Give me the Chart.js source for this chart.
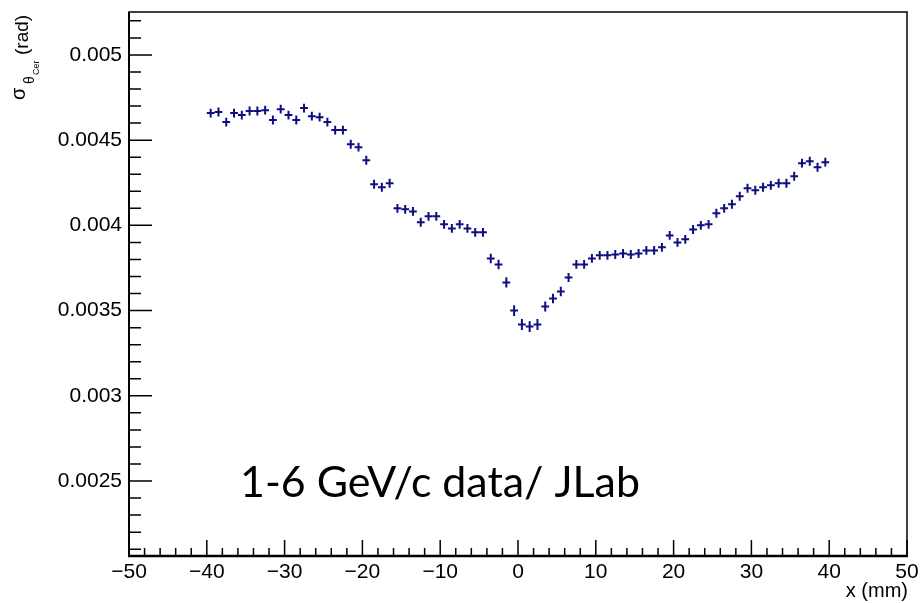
<!DOCTYPE html>
<html><head><meta charset="utf-8">
<script src="https://cdn.jsdelivr.net/npm/chart.js@4/dist/chart.umd.min.js"></script>
<style>html,body{margin:0;padding:0;background:#fff}#wrap{width:922px;height:603px;position:relative}</style>
</head><body><div id="wrap"><canvas id="c" width="922" height="603"></canvas></div>
<script>
// ---- data ----
const binCenters = [-39.5,-38.5,-37.5,-36.5,-35.5,-34.5,-33.5,-32.5,-31.5,-30.5,-29.5,-28.5,-27.5,-26.5,-25.5,-24.5,-23.5,-22.5,-21.5,-20.5,
  -19.5,-18.5,-17.5,-16.5,-15.5,-14.5,-13.5,-12.5,-11.5,-10.5,-9.5,-8.5,-7.5,-6.5,-5.5,-4.5,-3.5,-2.5,-1.5,-0.5,
  0.5,1.5,2.5,3.5,4.5,5.5,6.5,7.5,8.5,9.5,10.5,11.5,12.5,13.5,14.5,15.5,16.5,17.5,18.5,19.5,
  20.5,21.5,22.5,23.5,24.5,25.5,26.5,27.5,28.5,29.5,30.5,31.5,32.5,33.5,34.5,35.5,36.5,37.5,38.5,39.5];
const sigmaValues = [0.004659,0.004665,0.004606,0.004659,0.004647,0.004671,0.004671,0.004676,0.004618,0.004682,
  0.004647,0.004618,0.004688,0.004641,0.004635,0.004606,0.004559,0.004559,0.004476,0.004459,
  0.004382,0.004241,0.004224,0.004247,0.004100,0.004094,0.004082,0.004018,0.004053,0.004053,
  0.004006,0.003982,0.004006,0.003982,0.003959,0.003959,0.003806,0.003771,0.003665,0.003500,
  0.003418,0.003406,0.003418,0.003524,0.003571,0.003612,0.003694,0.003771,0.003771,0.003806,
  0.003824,0.003824,0.003829,0.003835,0.003829,0.003835,0.003853,0.003853,0.003871,0.003941,
  0.003900,0.003918,0.003976,0.004000,0.004006,0.004071,0.004100,0.004124,0.004171,0.004218,
  0.004206,0.004224,0.004235,0.004247,0.004247,0.004288,0.004365,0.004376,0.004341,0.004371];
const sigmaErrors = [0.000026,0.000026,0.000026,0.000026,0.000026,0.000026,0.000026,0.000026,0.000026,0.000026,
  0.000026,0.000026,0.000026,0.000026,0.000026,0.000026,0.000026,0.000026,0.000026,0.000026,
  0.000026,0.000026,0.000026,0.000026,0.000026,0.000026,0.000026,0.000026,0.000026,0.000026,
  0.000026,0.000026,0.000026,0.000026,0.000026,0.000026,0.000028,0.000028,0.000030,0.000032,
  0.000032,0.000032,0.000032,0.000030,0.000028,0.000028,0.000026,0.000026,0.000026,0.000026,
  0.000026,0.000026,0.000026,0.000026,0.000026,0.000026,0.000026,0.000026,0.000026,0.000026,
  0.000026,0.000026,0.000026,0.000026,0.000026,0.000026,0.000026,0.000026,0.000026,0.000026,
  0.000026,0.000026,0.000026,0.000026,0.000026,0.000026,0.000026,0.000026,0.000026,0.000026];
const binHalfWidth = 0.5;
const xTickValues = [-50,-40,-30,-20,-10,0,10,20,30,40,50];
const yTickValues = [0.0025,0.003,0.0035,0.004,0.0045,0.005];
const xRange = [-50, 50];
const yRange = [0.00206, 0.005252];
const xTitle = 'x (mm)';
const yTitleParts = {main:'σ', sub:'θ', subsub:'Cer', unit:'(rad)'};
const noteText = '1-6 GeV/c data/ JLab';

const markerColor = '#0e0e80';
const tickFont = '"Liberation Sans", Arial, Helvetica, sans-serif';

const rootPlugin = {
  id: 'rootStyle',
  afterDatasetsDraw(chart) {
    const {ctx, scales:{x, y}} = chart;
    const meta = chart.getDatasetMeta(0);
    ctx.save();
    ctx.strokeStyle = markerColor;
    ctx.lineWidth = 2;
    meta.data.forEach((el, i) => {
      const px = el.x, py = el.y;
      const x0 = x.getPixelForValue(binCenters[i] - binHalfWidth);
      const x1 = x.getPixelForValue(binCenters[i] + binHalfWidth);
      const y0 = y.getPixelForValue(sigmaValues[i] - sigmaErrors[i]);
      const y1 = y.getPixelForValue(sigmaValues[i] + sigmaErrors[i]);
      ctx.beginPath();
      ctx.moveTo(x0, py); ctx.lineTo(x1, py);
      ctx.moveTo(px, y0); ctx.lineTo(px, y1);
      ctx.stroke();
    });
    ctx.restore();
  },
  afterDraw(chart) {
    const {ctx, chartArea:a, scales:{x, y}} = chart;
    ctx.save();
    ctx.strokeStyle = '#000';
    ctx.lineWidth = 1.5;
    ctx.strokeRect(a.left, a.top, a.right - a.left, a.bottom - a.top);
    ctx.lineWidth = 2.5;
    ctx.beginPath(); ctx.moveTo(a.left - 1, a.bottom); ctx.lineTo(a.right + 1, a.bottom); ctx.stroke();
    ctx.lineWidth = 2;
    ctx.beginPath(); ctx.moveTo(a.left, a.top); ctx.lineTo(a.left, a.bottom); ctx.stroke();
    // x ticks (inward)
    ctx.lineWidth = 1.5;
    ctx.beginPath();
    for (let v = xRange[0]; v <= xRange[1]; v += 2) {
      const px = x.getPixelForValue(v);
      const major = Math.abs(v % 10) < 1e-9;
      ctx.moveTo(px, a.bottom); ctx.lineTo(px, a.bottom - (major ? 16 : 8));
    }
    // y ticks (inward)
    for (let k = 21; k <= 52; k++) {
      const v = k * 0.0001;
      const py = y.getPixelForValue(v);
      const major = k % 5 === 0;
      ctx.moveTo(a.left, py); ctx.lineTo(a.left + (major ? 23 : 12), py);
    }
    ctx.stroke();

    // x title
    ctx.fillStyle = '#000';
    ctx.font = '20px ' + tickFont;
    ctx.textAlign = 'right'; ctx.textBaseline = 'alphabetic';
    ctx.fillText(xTitle, a.right + 1, 597);

    // y title (rotated)
    ctx.save();
    ctx.translate(25, 100);
    ctx.rotate(-Math.PI / 2);
    ctx.textAlign = 'left';
    ctx.font = '20px ' + tickFont;
    ctx.fillText(yTitleParts.main, 0, 0);
    ctx.font = '14px ' + tickFont;
    ctx.fillText(yTitleParts.sub, 16, 9);
    ctx.font = '9px ' + tickFont;
    ctx.fillText(yTitleParts.subsub, 25, 14);
    ctx.font = '19px ' + tickFont;
    ctx.fillText(yTitleParts.unit, 45, 3);
    ctx.restore();

    // note
    ctx.font = '38px Lato, "Open Sans", sans-serif';
    ctx.textAlign = 'left';
    const w = ctx.measureText(noteText).width;
    const size = 38 * 400 / w;
    ctx.font = size.toFixed(1) + 'px Lato, "Open Sans", sans-serif';
    ctx.fillText(noteText, 240, 497);
    ctx.restore();
  }
};

new Chart(document.getElementById('c'), {
  type: 'scatter',
  data: {
    datasets: [{
      data: binCenters.map((xv, i) => ({x: xv, y: sigmaValues[i]})),
      pointRadius: 0, pointHoverRadius: 0, showLine: false,
      borderColor: markerColor, backgroundColor: markerColor
    }]
  },
  options: {
    responsive: false, animation: false, devicePixelRatio: 1,
    layout: {padding: {top: 12, right: 15, left: 0, bottom: 0}},
    plugins: {legend: {display: false}, tooltip: {enabled: false}},
    scales: {
      x: {
        type: 'linear', min: xRange[0], max: xRange[1],
        grid: {display: false, drawTicks: false},
        border: {display: false},
        afterBuildTicks(s) { s.ticks = xTickValues.map(v => ({value: v})); },
        afterFit(s) { s.height = 47; s.paddingLeft = 0; s.paddingRight = 0; },
        ticks: {
          autoSkip: false, maxRotation: 0, padding: 4, color: '#000',
          font: {family: tickFont, size: 21},
          callback: v => (v < 0 ? '\u2212' + Math.abs(v) : String(v))
        }
      },
      y: {
        type: 'linear', min: yRange[0], max: yRange[1],
        grid: {display: false, drawTicks: false},
        border: {display: false},
        afterBuildTicks(s) { s.ticks = yTickValues.map(v => ({value: v})); },
        afterFit(s) { s.width = 129; s.paddingTop = 0; s.paddingBottom = 0; },
        ticks: {
          autoSkip: false, padding: 7, color: '#000',
          font: {family: tickFont, size: 21},
          callback: v => String(Number(v.toPrecision(6)))
        }
      }
    }
  },
  plugins: [rootPlugin]
});
</script>
</body></html>
